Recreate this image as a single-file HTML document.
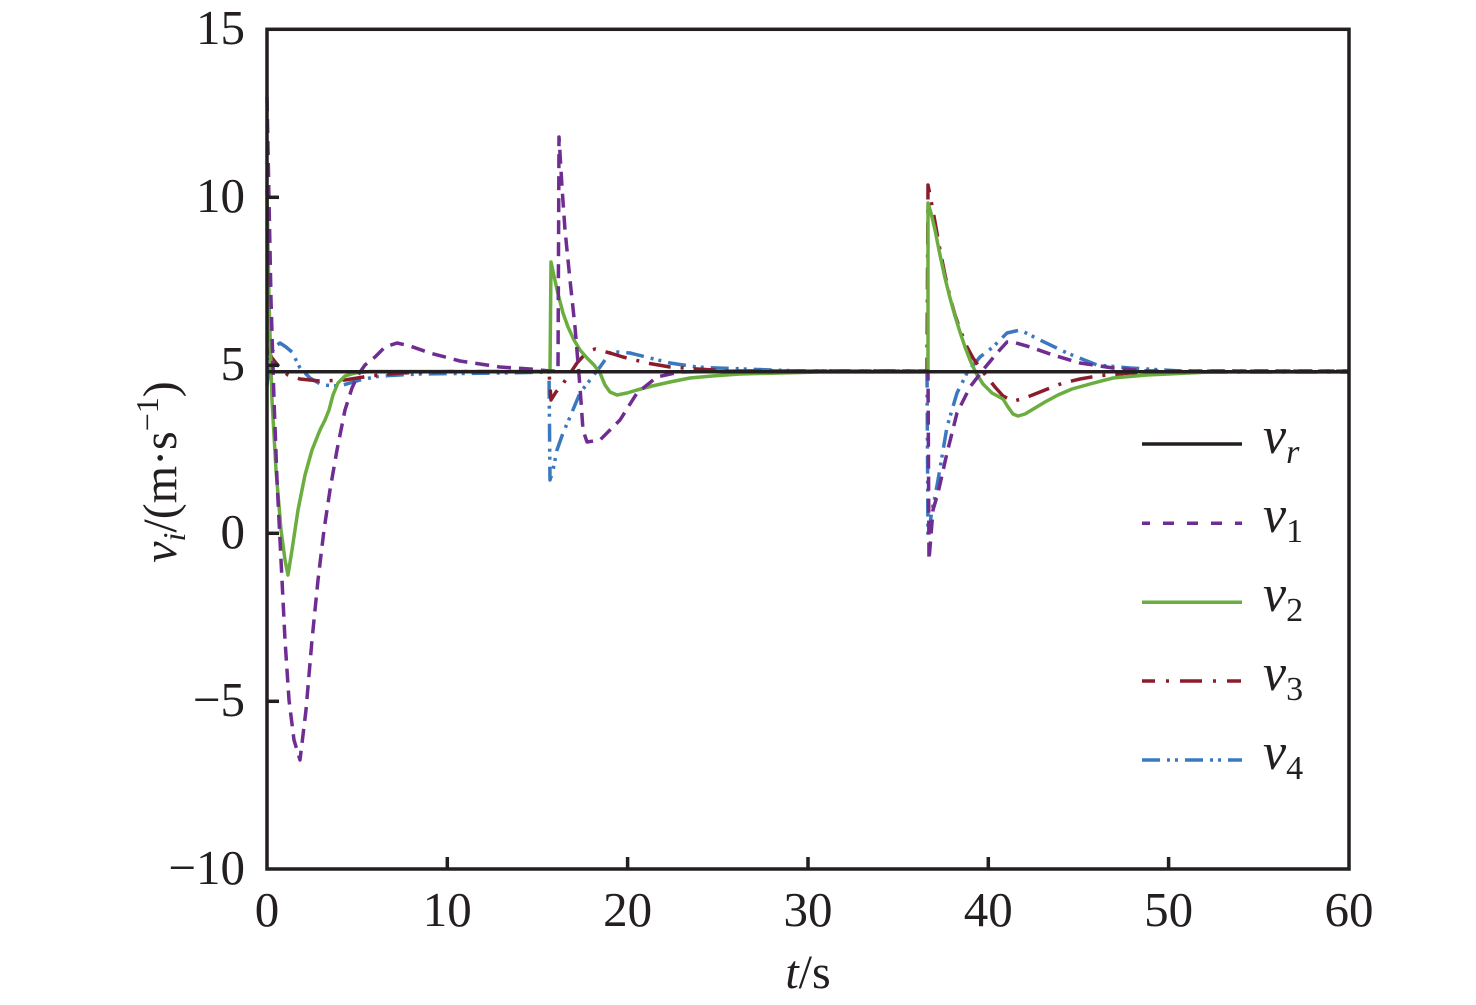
<!DOCTYPE html>
<html><head><meta charset="utf-8"><style>
html,body{margin:0;padding:0;background:#fff;}
svg{display:block;}
text{font-family:"Liberation Serif",serif;fill:#231f20;}
</style></head><body>
<svg width="1476" height="1005" viewBox="0 0 1476 1005" xmlns="http://www.w3.org/2000/svg">
<rect width="1476" height="1005" fill="#fff"/>
<g fill="none" stroke-width="3.5" stroke-linejoin="round">
<path stroke="#3a78c0" stroke-dasharray="18 7 3 5 3 7" d="M267,385 L270,360 L274,347 L280,343 L286,347 L292,352 L300,368 L310,378 L322,385 L340,386 L360,380 L380,376 L420,374 L500,373 L549,372 L550,480 L553,470 L557,450 L563,433 L570,417 L580,393 L590,380 L600,367 L610,353 L618,352 L630,353 L650,358 L670,363 L697,367 L717,368 L800,371 L927,371 L928,537 L932,510 L935,497 L938,480 L947,427 L957,393 L967,373 L980,357 L993,347 L1007,333 L1020,330 L1040,340 L1067,353 L1097,365 L1130,368 L1180,371 L1349,371"/>
<path stroke="#8c1c2c" stroke-dasharray="22 10 3 10" d="M267,348 L272,358 L280,368 L288,375 L300,379 L320,381 L345,380 L370,376 L400,373 L450,371.5 L549,371.5 L551,400 L556,392 L562,385 L567,378 L577,363 L587,352 L595,349 L610,353 L623,357 L647,363 L670,367 L697,369 L730,371 L927,371 L928,185 L931,200 L935,222 L940,250 L945,275 L950,297 L955,315 L961,332 L967,347 L973,358 L980,368 L987,377 L995,387 L1003,396 L1013,401 L1022,399 L1035,394 L1050,388 L1063,383 L1080,379 L1097,376 L1130,373 L1180,372 L1349,372"/>
<path stroke="#6bae3f" d="M267,190 L269,300 L272,400 L276,470 L281,530 L285,560 L288,575 L292,550 L298,510 L305,475 L312,450 L320,430 L325,420 L329,410 L333,395 L338,383 L345,376 L355,373 L370,371.5 L550,371.5 L551,262 L554,276 L558,294 L563,313 L568,327 L574,340 L580,350 L587,358 L594,365 L600,373 L605,385 L610,392 L617,395 L627,393 L637,390 L652,386 L670,382 L690,378 L712,376 L740,374 L780,373 L820,372 L928,372 L928,203 L931,213 L935,230 L940,255 L945,278 L950,298 L955,316 L960,332 L965,347 L970,360 L976,373 L983,384 L992,393 L1003,399 L1008,407 L1013,414 L1018,416 L1025,414 L1035,408 L1045,402 L1058,395 L1072,389 L1090,384 L1113,378 L1147,375 L1210,372 L1349,372"/>
<path stroke="#6f2c91" stroke-dasharray="14 8" d="M267,97 L269,200 L271,300 L274,400 L277,480 L281,560 L285,640 L289,700 L294,740 L300,760 L306,710 L312,640 L318,580 L324,530 L330,490 L337,450 L345,410 L352,388 L358,375 L365,365 L375,357 L385,347 L397,343 L410,346 L430,353 L460,361 L500,367 L530,369 L550,371 L558,371 L559,137 L562,187 L565,230 L570,280 L575,327 L580,387 L583,430 L587,442 L600,440 L620,420 L637,393 L657,377 L680,372 L740,371 L928,371 L929,560 L933,510 L938,493 L947,453 L957,413 L970,387 L983,370 L997,353 L1007,342 L1013,342 L1030,347 L1053,355 L1080,363 L1113,368 L1147,371 L1349,371"/>
<line x1="267" y1="371.7" x2="1349" y2="371.7" stroke="#231f20" stroke-width="3.5"/>
</g>
<g stroke="#231f20" stroke-width="3.5" fill="none">
<rect x="267" y="29.3" width="1082" height="839.7"/>
<line x1="267" y1="197.3" x2="279" y2="197.3"/>
<line x1="267" y1="365.3" x2="279" y2="365.3"/>
<line x1="267" y1="533.3" x2="279" y2="533.3"/>
<line x1="267" y1="701.3" x2="279" y2="701.3"/>
<line x1="447.3" y1="869" x2="447.3" y2="857"/>
<line x1="627.6" y1="869" x2="627.6" y2="857"/>
<line x1="808" y1="869" x2="808" y2="857"/>
<line x1="988.3" y1="869" x2="988.3" y2="857"/>
<line x1="1168.6" y1="869" x2="1168.6" y2="857"/>
</g>
<g font-size="49" text-anchor="end">
<text x="245" y="44">15</text>
<text x="245" y="212">10</text>
<text x="245" y="380">5</text>
<text x="245" y="548">0</text>
<text x="245" y="716">−5</text>
<text x="245" y="884">−10</text>
</g>
<g font-size="49" text-anchor="middle">
<text x="267" y="926">0</text>
<text x="447.3" y="926">10</text>
<text x="627.6" y="926">20</text>
<text x="808" y="926">30</text>
<text x="988.3" y="926">40</text>
<text x="1168.6" y="926">50</text>
<text x="1349" y="926">60</text>
</g>
<text x="808" y="988" font-size="48" text-anchor="middle"><tspan font-style="italic">t</tspan>/s</text>
<text transform="translate(176,472) rotate(-90)" font-size="48" text-anchor="middle"><tspan font-style="italic">v</tspan><tspan font-style="italic" font-size="32" dy="9">i</tspan><tspan dy="-9">/(m·s</tspan><tspan font-size="32" dy="-18">−1</tspan><tspan dy="18">)</tspan></text>
<g stroke-width="3.5" fill="none">
<line x1="1142" y1="444" x2="1242" y2="444" stroke="#231f20"/>
<line x1="1142" y1="523.3" x2="1242" y2="523.3" stroke="#6f2c91" stroke-dasharray="8 13 11 13 11 13 11 13 8"/>
<line x1="1142" y1="602.3" x2="1242" y2="602.3" stroke="#6bae3f"/>
<line x1="1142" y1="681" x2="1242" y2="681" stroke="#8c1c2c" stroke-dasharray="13 11 3 11 22 11 3 11 14"/>
<line x1="1142" y1="760" x2="1242" y2="760" stroke="#3a78c0" stroke-dasharray="18 7 3 5 3 7"/>
</g>
<g font-size="52">
<text x="1263" y="453" font-style="italic">v<tspan font-size="34" dy="10">r</tspan></text>
<text x="1263" y="532"><tspan font-style="italic">v</tspan><tspan font-size="34" dy="10">1</tspan></text>
<text x="1263" y="611"><tspan font-style="italic">v</tspan><tspan font-size="34" dy="10">2</tspan></text>
<text x="1263" y="690"><tspan font-style="italic">v</tspan><tspan font-size="34" dy="10">3</tspan></text>
<text x="1263" y="769"><tspan font-style="italic">v</tspan><tspan font-size="34" dy="10">4</tspan></text>
</g>
</svg>
</body></html>
